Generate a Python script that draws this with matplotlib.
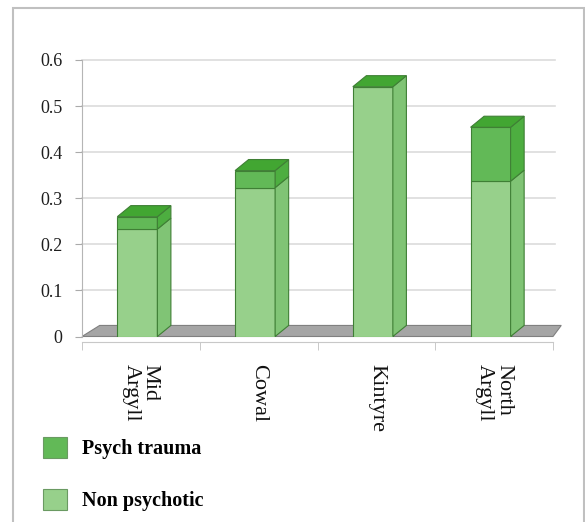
import matplotlib
matplotlib.use('Agg')
import numpy as np
import matplotlib.pyplot as plt
from matplotlib.patches import Polygon, Rectangle

regions = ['Mid\nArgyll', 'Cowal', 'Kintyre', 'North\nArgyll']
non_psychotic = [0.233, 0.323, 0.542, 0.337]
psych_trauma = [0.027, 0.037, 0.0, 0.117]
y_ticks = [0, 0.1, 0.2, 0.3, 0.4, 0.5, 0.6]
y_labels = ['0', '0.1', '0.2', '0.3', '0.4', '0.5', '0.6']

plt.rcParams['font.family'] = ['Liberation Serif', 'DejaVu Serif']

# colours of the faces
np_front, np_side = '#97d08b', '#80c475'
tr_front, tr_side, tr_top = '#62b957', '#4dae40', '#42a632'
edge = '#3f7f35'

fig = plt.figure(figsize=(5.85, 5.22), dpi=100)
ax = fig.add_axes([82 / 585, 1 - 336.5 / 522, 471 / 585, 276.5 / 522])
ax.set_xlim(-0.5, 3.5)
ax.set_ylim(0, 0.6)

# fake 3d depth
width = 0.34
dx, dy = 0.115, 0.024
x = np.arange(len(regions)) - 0.03

for t in y_ticks[1:]:
    ax.plot([-0.5, 3.52], [t, t], color='#dcdcdc', lw=1.2, zorder=0, clip_on=False)

floor = Polygon([(-0.5, 0), (3.5, 0), (3.57, dy), (-0.35, dy)], closed=True,
                facecolor='#a5a5a5', edgecolor='#808080', lw=0.8, zorder=1, clip_on=False)
ax.add_patch(floor)

np_bars = ax.bar(x, non_psychotic, width, color=np_front, edgecolor=edge, lw=0.8, zorder=3)
tr_bars = ax.bar(x, psych_trauma, width, bottom=non_psychotic, color=tr_front,
                 edgecolor=edge, lw=0.8, zorder=3)

for xi, a, b in zip(x, non_psychotic, psych_trauma):
    l, r = xi - width / 2, xi + width / 2
    tot = a + b
    ax.add_patch(Polygon([(r, 0), (r + dx, dy), (r + dx, a + dy), (r, a)],
                         facecolor=np_side, edgecolor=edge, lw=0.8, zorder=3))
    if b > 0:
        ax.add_patch(Polygon([(r, a), (r + dx, a + dy), (r + dx, tot + dy), (r, tot)],
                             facecolor=tr_side, edgecolor=edge, lw=0.8, zorder=3))
    ax.add_patch(Polygon([(l, tot), (r, tot), (r + dx, tot + dy), (l + dx, tot + dy)],
                         facecolor=tr_top, edgecolor=edge, lw=0.8, zorder=3, clip_on=False))

for s in ['top', 'right']:
    ax.spines[s].set_visible(False)
ax.spines['left'].set_color('#b5b5b5')
ax.spines['bottom'].set_color('#c8c8c8')
ax.spines['bottom'].set_position(('outward', 4))

ax.set_yticks(y_ticks, y_labels)
ax.tick_params(axis='y', length=5, color='#aaaaaa', pad=9, labelsize=13, labelcolor='#1e1e1e')

ax.set_xticks(range(len(regions)), regions)
ax.set_xticks(np.arange(-0.5, 4, 1), minor=True)
ax.tick_params(axis='x', which='major', length=0, pad=16, labelsize=16,
               labelrotation=270, labelcolor='#111111')
ax.tick_params(axis='x', which='minor', length=6, color='#c0c0c0')
for lbl in ax.get_xticklabels():
    lbl.set_multialignment('left')
    lbl.set_linespacing(1.0)

leg = fig.legend([tr_bars, np_bars], ['Psych trauma', 'Non psychotic'], loc='upper left',
                 bbox_to_anchor=(43 / 585, 1 - 437 / 522), frameon=False,
                 prop={'weight': 'bold', 'size': 14.5}, handlelength=1.2, handleheight=1.2,
                 handletextpad=0.75, labelspacing=1.5, borderpad=0, borderaxespad=0)
for h in leg.legend_handles:
    h.set_edgecolor('#6a9a62')

fig.patches.append(Rectangle((13 / 585, -0.02), 571 / 585, 1.02 - 8 / 522,
                             transform=fig.transFigure, fill=False,
                             edgecolor='#c0c0c0', lw=1.5))

fig.savefig('out.png', dpi=100)
